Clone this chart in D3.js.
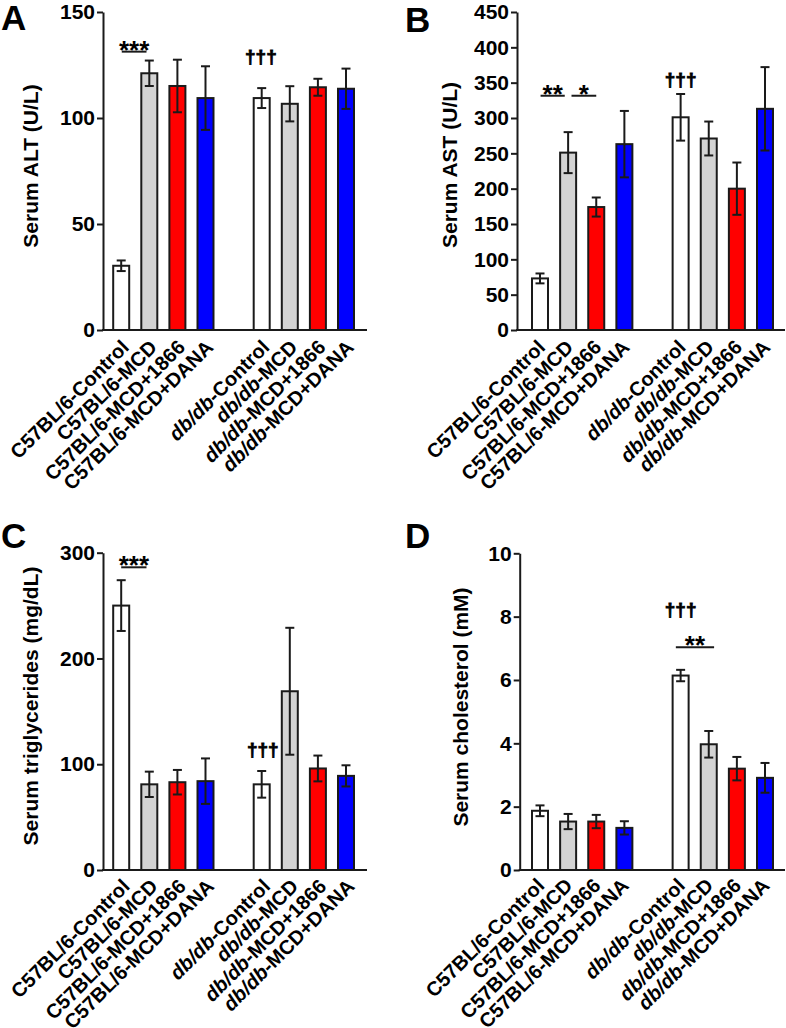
<!DOCTYPE html>
<html>
<head>
<meta charset="utf-8">
<script src="https://cdn.jsdelivr.net/npm/d3@7"></script>
<style>
  html, body { margin: 0; padding: 0; background: #fff; }
  svg { display: block; font-family: "Liberation Sans", Arial, sans-serif; }
</style>
</head>
<body>
<svg id="chart" width="786" height="1028"></svg>
<script>
// ---------------- DATA ----------------
const categories = [
  "C57BL/6-Control", "C57BL/6-MCD", "C57BL/6-MCD+1866", "C57BL/6-MCD+DANA",
  "db/db-Control", "db/db-MCD", "db/db-MCD+1866", "db/db-MCD+DANA"
];
const slots = [0, 1, 2, 3, 5, 6, 7, 8];
const barColors = ["#ffffff", "#d3d3d3", "#ff0000", "#0000ff", "#ffffff", "#d3d3d3", "#ff0000", "#0000ff"];

const altMean = [30.3, 121.1, 115.1, 109.4, 109.4, 106.7, 114.5, 113.8];
const altSem  = [2.5, 6.0, 12.4, 15.0, 4.7, 8.3, 4.0, 9.5];
const altTicks = [0, 50, 100, 150];

const astMean = [73, 251, 174, 263, 301, 271, 200, 313];
const astSem  = [7, 29, 13.5, 47, 33, 24, 37, 59];
const astTicks = [0, 50, 100, 150, 200, 250, 300, 350, 400, 450];

const tgMean = [250, 81, 83, 84, 81, 169, 96, 89];
const tgSem  = [24, 12, 11.6, 21.5, 12.6, 60, 12.2, 10];
const tgTicks = [0, 100, 200, 300];

const cholMean = [1.87, 1.53, 1.53, 1.33, 6.14, 3.97, 3.20, 2.91];
const cholSem  = [0.17, 0.24, 0.21, 0.21, 0.18, 0.42, 0.37, 0.47];
const cholTicks = [0, 2, 4, 6, 8, 10];

// significance marks: [from slot, to slot, value of line, text]
const altSig  = [[0.02, 0.9, 131.3, "***"]];
const astSig  = [[0.02, 0.88, 331.5, "**"], [1.12, 2.0, 331.5, "*"]];
const tgSig   = [[0.0, 0.9, 286.2, "***"]];
const cholSig = [[4.83, 6.19, 7.03, "**"]];
// dagger marks: [slot, value of baseline]
const altDag  = [[4.97, 126]];
const astDag  = [[5.0, 345]];
const tgDag   = [[5.04, 107.8]];
const cholDag = [[5.0, 8.02]];

// ---------------- DRAW ----------------
const svg = d3.select("#chart");
const INK = "#1a1a1a";

function panel(cfg) {
  const g = svg.append("g");
  const y = d3.scaleLinear().domain([0, cfg.ticks[cfg.ticks.length - 1]]).range([cfg.y0, cfg.yTop]);
  const x = d3.scaleLinear().domain([0, 8]).range([cfg.xFirst, cfg.xLast]);
  const bw = 16;

  // panel letter
  g.append("text").attr("x", cfg.letterX).attr("y", cfg.letterY)
    .attr("font-size", 35).attr("font-weight", "bold").attr("fill", "#000").text(cfg.letter);

  // bars
  g.selectAll("rect.bar").data(cfg.means).join("rect")
    .attr("class", "bar")
    .attr("x", (d, i) => x(slots[i]) - bw / 2)
    .attr("width", bw)
    .attr("y", d => y(d))
    .attr("height", d => y(0) - y(d))
    .attr("fill", (d, i) => barColors[i])
    .attr("stroke", INK).attr("stroke-width", 2);

  // error bars
  const eb = g.selectAll("g.eb").data(cfg.means).join("g").attr("class", "eb");
  eb.append("line")
    .attr("x1", (d, i) => x(slots[i])).attr("x2", (d, i) => x(slots[i]))
    .attr("y1", (d, i) => y(d - cfg.sems[i])).attr("y2", (d, i) => y(d + cfg.sems[i]))
    .attr("stroke", INK).attr("stroke-width", 2);
  [-1, 1].forEach(s => {
    eb.append("line")
      .attr("x1", (d, i) => x(slots[i]) - 4.5).attr("x2", (d, i) => x(slots[i]) + 4.5)
      .attr("y1", (d, i) => y(d + s * cfg.sems[i])).attr("y2", (d, i) => y(d + s * cfg.sems[i]))
      .attr("stroke", INK).attr("stroke-width", 2);
  });

  // y axis
  const ax = g.append("g").attr("transform", `translate(${cfg.axisX},0)`)
    .call(d3.axisLeft(y).tickValues(cfg.ticks).tickSize(6).tickSizeOuter(0).tickPadding(2));
  ax.select(".domain").attr("stroke", INK).attr("stroke-width", 2);
  ax.selectAll(".tick line").attr("stroke", INK).attr("stroke-width", 2);
  ax.selectAll(".tick text").attr("font-size", 21).attr("font-weight", "bold")
    .attr("fill", "#000").attr("font-family", "Liberation Sans, Arial, sans-serif");

  // x axis line
  g.append("line").attr("x1", cfg.axisX - 1).attr("x2", cfg.xEnd)
    .attr("y1", y(0)).attr("y2", y(0)).attr("stroke", INK).attr("stroke-width", 2);

  // y label
  g.append("text")
    .attr("transform", `translate(${cfg.ylabelX},${cfg.ylabelY}) rotate(-90)`)
    .attr("text-anchor", "middle").attr("font-size", 21).attr("font-weight", "bold")
    .attr("fill", "#000").text(cfg.ylabel);

  // x labels
  const xl = g.selectAll("text.xl").data(categories).join("text")
    .attr("class", "xl")
    .attr("transform", (d, i) => `translate(${x(slots[i]) + cfg.lblDx},${y(0) + cfg.lblDy}) rotate(-45)`)
    .attr("text-anchor", "end").attr("font-size", 20).attr("font-weight", "bold").attr("fill", "#000");
  xl.each(function (d) {
    const t = d3.select(this);
    if (d.startsWith("db/db")) {
      t.append("tspan").attr("font-style", "italic").text("db/db");
      t.append("tspan").text(d.slice(5));
    } else {
      t.text(d);
    }
  });

  // significance lines
  cfg.sig.forEach(s => {
    g.append("line").attr("x1", x(s[0])).attr("x2", x(s[1]))
      .attr("y1", y(s[2])).attr("y2", y(s[2]))
      .attr("stroke", INK).attr("stroke-width", 2);
    g.append("text").attr("x", (x(s[0]) + x(s[1])) / 2).attr("y", y(s[2]) + 7)
      .attr("text-anchor", "middle").attr("font-size", 26).attr("font-weight", "bold")
      .attr("fill", "#000").text(s[3]);
  });
  cfg.dag.forEach(s => {
    g.append("text").attr("x", x(s[0])).attr("y", y(s[1]))
      .attr("text-anchor", "middle").attr("font-size", 19).attr("font-weight", "bold")
      .attr("fill", "#000").attr("stroke", "#000").attr("stroke-width", 0.8)
      .text("\u2020\u2020\u2020");
  });
}

panel({ letter: "A", letterX: 1, letterY: 30, axisX: 103, y0: 330, yTop: 12,
  xFirst: 121.2, xLast: 346, xEnd: 367, means: altMean, sems: altSem, ticks: altTicks,
  ylabel: "Serum ALT (U/L)", ylabelX: 38, ylabelY: 166, lblDx: 8.9, lblDy: 18.5,
  sig: altSig, dag: altDag });

panel({ letter: "B", letterX: 405, letterY: 32, axisX: 517, y0: 330, yTop: 12,
  xFirst: 540, xLast: 765, xEnd: 785, means: astMean, sems: astSem, ticks: astTicks,
  ylabel: "Serum AST (U/L)", ylabelX: 456.5, ylabelY: 165, lblDx: 6.4, lblDy: 18.5,
  sig: astSig, dag: astDag });

panel({ letter: "C", letterX: 1, letterY: 548, axisX: 103, y0: 870, yTop: 552.7,
  xFirst: 121.2, xLast: 346, xEnd: 367, means: tgMean, sems: tgSem, ticks: tgTicks,
  ylabel: "Serum triglycerides (mg/dL)", ylabelX: 38, ylabelY: 706, lblDx: 9.7, lblDy: 17.6,
  sig: tgSig, dag: tgDag });

panel({ letter: "D", letterX: 405, letterY: 548, axisX: 519.7, y0: 870, yTop: 553.3,
  xFirst: 540, xLast: 765, xEnd: 785, means: cholMean, sems: cholSem, ticks: cholTicks,
  ylabel: "Serum cholesterol (mM)", ylabelX: 468, ylabelY: 707, lblDx: 5.6, lblDy: 16.8,
  sig: cholSig, dag: cholDag });
</script>
</body>
</html>
